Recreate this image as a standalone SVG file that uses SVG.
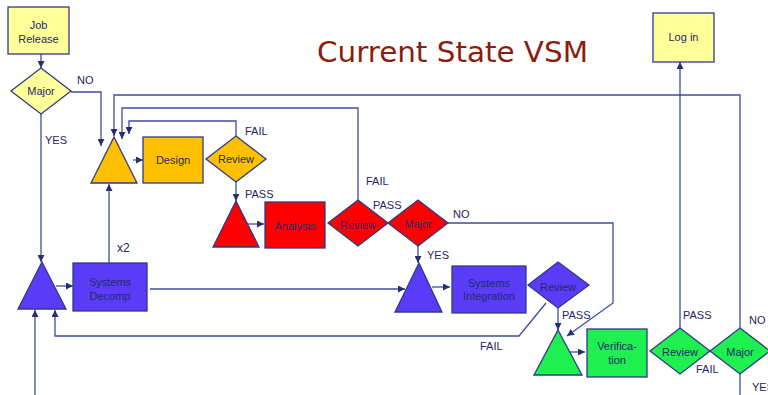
<svg xmlns="http://www.w3.org/2000/svg" width="768" height="395" viewBox="0 0 768 395">
  <style>
    .node { stroke: #2E3A87; stroke-width: 1.3; }
    .yellow { fill: #FFFF99; }
    .orange { fill: #FFC000; }
    .red { fill: #FF0000; }
    .blue { fill: #5A3BF7; }
    .green { fill: #1EF050; }
    .lbl { font-family: "Liberation Sans", Arial, sans-serif; font-size: 11px; fill: #25296B; text-anchor: middle; }
    .tag { font-family: "Liberation Sans", Arial, sans-serif; font-size: 11px; fill: #1E2466; }
    .conn path { fill: none; stroke: #3F4C9C; stroke-width: 1.3; }
    .title { font-family: "Comic Sans MS", "DejaVu Sans", sans-serif; font-size: 28px; fill: #8C1C0C; }
  </style>
  <defs>
    <marker id="arrow" viewBox="0 0 10 10" refX="10" refY="5" markerWidth="7" markerHeight="7" markerUnits="userSpaceOnUse" orient="auto">
      <path d="M0 0 L10 5 L0 10 Z" fill="#26306E"/>
    </marker>
  </defs>

  <rect width="768" height="395" fill="#FFFFFF"/>

  <text class="title" x="317" y="62" textLength="271" lengthAdjust="spacingAndGlyphs">Current State VSM</text>

  <!-- connectors -->
  <g id="connectors" class="conn">
    <path d="M41 54 V68" marker-end="url(#arrow)"/>
    <path d="M71 92 H101 V146" marker-end="url(#arrow)"/>
    <path d="M41 114 V262" marker-end="url(#arrow)"/>
    <path d="M133 160 H143" marker-end="url(#arrow)"/>
    <path d="M236 136 V121 H129 V134" marker-end="url(#arrow)"/>
    <path d="M236 182 V201" marker-end="url(#arrow)"/>
    <path d="M248 224 H264" marker-end="url(#arrow)"/>
    <path d="M358 200 V108 H122 V139" marker-end="url(#arrow)"/>
    <path d="M740 328 V95 H114 V136" marker-end="url(#arrow)"/>
    <path d="M418 246 V263" marker-end="url(#arrow)"/>
    <path d="M448 223 H613 V303 L567 336" marker-end="url(#arrow)"/>
    <path d="M150 289 H405" marker-end="url(#arrow)"/>
    <path d="M432 287 H450" marker-end="url(#arrow)"/>
    <path d="M558 308 V330" marker-end="url(#arrow)"/>
    <path d="M546 303 L519 336 H55 V310" marker-end="url(#arrow)"/>
    <path d="M570 352 H585" marker-end="url(#arrow)"/>
    <path d="M680 328 V62" marker-end="url(#arrow)"/>
    <path d="M740 374 V395"/>
    <path d="M35 395 V310" marker-end="url(#arrow)"/>
    <path d="M56 286 H73" marker-end="url(#arrow)"/>
    <path d="M109 263 V184" marker-end="url(#arrow)"/>
  </g>

  <!-- connector labels -->
  <g id="labels">
    <text class="tag" x="77" y="84">NO</text>
    <text class="tag" x="45" y="144">YES</text>
    <text class="tag" x="245" y="135">FAIL</text>
    <text class="tag" x="245" y="198">PASS</text>
    <text class="tag" x="117" y="252" style="font-size:12px">x2</text>
    <text class="tag" x="366" y="185">FAIL</text>
    <text class="tag" x="373" y="209">PASS</text>
    <text class="tag" x="453" y="218">NO</text>
    <text class="tag" x="427" y="259">YES</text>
    <text class="tag" x="562" y="319">PASS</text>
    <text class="tag" x="480" y="350">FAIL</text>
    <text class="tag" x="683" y="319">PASS</text>
    <text class="tag" x="749" y="324">NO</text>
    <text class="tag" x="696" y="373">FAIL</text>
    <text class="tag" x="752" y="391">YES</text>
  </g>

  <!-- yellow stage -->
  <g id="job-release">
    <rect class="node yellow" x="8" y="7" width="61" height="47"/>
    <text class="lbl" x="38.5" y="29">Job</text>
    <text class="lbl" x="38.5" y="43">Release</text>
  </g>
  <g id="major-1">
    <polygon class="node yellow" points="41,68 71,91 41,114 11,91"/>
    <text class="lbl" x="41" y="95">Major</text>
  </g>
  <g id="log-in">
    <rect class="node yellow" x="653" y="13" width="61" height="49"/>
    <text class="lbl" x="683.5" y="41">Log in</text>
  </g>

  <!-- orange stage -->
  <g id="queue-design">
    <polygon class="node orange" points="114,137 137,183 91,183"/>
  </g>
  <g id="design">
    <rect class="node orange" x="143" y="137" width="60" height="46"/>
    <text class="lbl" x="173" y="164">Design</text>
  </g>
  <g id="review-design">
    <polygon class="node orange" points="236,136 266,159 236,182 206,159"/>
    <text class="lbl" x="236" y="163">Review</text>
  </g>

  <!-- red stage -->
  <g id="queue-analysis">
    <polygon class="node red" points="236,201 259,247 213,247"/>
  </g>
  <g id="analysis">
    <rect class="node red" x="265" y="202" width="60" height="46"/>
    <text class="lbl" x="295" y="230">Analysis</text>
  </g>
  <g id="review-analysis">
    <polygon class="node red" points="358,200 388,223 358,246 328,223"/>
    <text class="lbl" x="358" y="229">Review</text>
  </g>
  <g id="major-analysis">
    <polygon class="node red" points="418,200 448,223 418,246 388,223"/>
    <text class="lbl" x="418" y="228">Major</text>
  </g>

  <!-- blue stage -->
  <g id="queue-decomp">
    <polygon class="node blue" points="42,262 66,309 18,309"/>
  </g>
  <g id="systems-decomp">
    <rect class="node blue" x="73" y="263" width="74" height="48"/>
    <text class="lbl" x="110" y="286">Systems</text>
    <text class="lbl" x="110" y="300">Decomp</text>
  </g>
  <g id="queue-integration">
    <polygon class="node blue" points="419,263 442,312 395,312"/>
  </g>
  <g id="systems-integration">
    <rect class="node blue" x="452" y="266" width="74" height="47"/>
    <text class="lbl" x="489" y="287">Systems</text>
    <text class="lbl" x="489" y="300">Integration</text>
  </g>
  <g id="review-integration">
    <polygon class="node blue" points="558,262 589,285 558,308 528,285"/>
    <text class="lbl" x="558" y="291">Review</text>
  </g>

  <!-- green stage -->
  <g id="queue-verification">
    <polygon class="node green" points="558,330 582,375 534,375"/>
  </g>
  <g id="verification">
    <rect class="node green" x="587" y="329" width="60" height="48"/>
    <text class="lbl" x="617" y="350">Verifica-</text>
    <text class="lbl" x="617" y="364">tion</text>
  </g>
  <g id="review-verification">
    <polygon class="node green" points="680,328 710,351 680,374 650,351"/>
    <text class="lbl" x="680" y="356">Review</text>
  </g>
  <g id="major-verification">
    <polygon class="node green" points="740,328 770,351 740,374 710,351"/>
    <text class="lbl" x="740" y="356">Major</text>
  </g>
</svg>
